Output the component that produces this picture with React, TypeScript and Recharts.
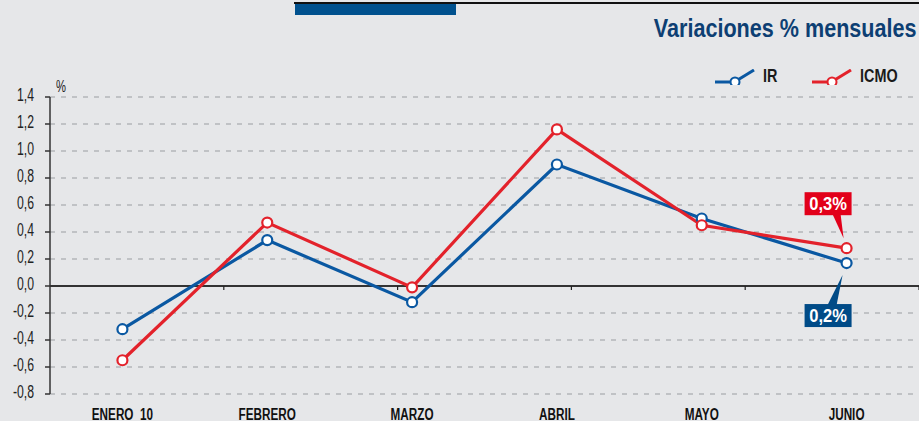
import React from "react";
import {
    LineChart,
    Line,
    XAxis,
    YAxis,
    CartesianGrid,
    ReferenceLine,
    LabelList,
} from "recharts";

const months = ["ENERO  10", "FEBRERO", "MARZO", "ABRIL", "MAYO", "JUNIO"];
const irValues = [-0.32, 0.34, -0.12, 0.9, 0.5, 0.17];
const icmoValues = [-0.55, 0.47, -0.01, 1.16, 0.45, 0.28];
const yTicks = [-0.8, -0.6, -0.4, -0.2, 0, 0.2, 0.4, 0.6, 0.8, 1.0, 1.2, 1.4];
const boundaryTicks = [1, 2, 3, 4, 5];

// no condensed fonts installed, so Liberation Sans gets squeezed with scaleX
const SANS = "'Liberation Sans', Arial, sans-serif";
const BLUE = "#0a58a2";
const RED = "#e3222b";
const BG = "#e6e7e9";

const data = months.map((m, i) => ({
    month: m,
    IR: irValues[i],
    ICMO: icmoValues[i],
}));

const fmt = (v: number) => v.toFixed(1).replace(".", ",");

function YTick(props: any) {
    const { x, y, payload } = props;
    return (
        <g transform={`translate(${x},${y})`}>
            <text
                transform="scale(0.68,1)"
                textAnchor="end"
                dy={4}
                fontFamily={SANS}
                fontSize={18}
                fill="#222"
            >
                {fmt(payload.value)}
            </text>
        </g>
    );
}

function XTick(props: any) {
    const { x, payload } = props;
    return (
        <g transform={`translate(${x},420)`}>
            <text
                transform="scale(0.69,1)"
                textAnchor="middle"
                fontFamily={SANS}
                fontWeight={700}
                fontSize={17}
                fill="#111"
                style={{ whiteSpace: "pre" }}
            >
                {payload.value}
            </text>
        </g>
    );
}

function LegendIcon({ color }: { color: string }) {
    return (
        <svg width={42} height={16} style={{ display: "block" }}>
            <line x1={1} y1={13} x2={18} y2={13} stroke={color} strokeWidth={3} />
            <line x1={22} y1={12} x2={40} y2={1} stroke={color} strokeWidth={3} />
            <circle cx={21} cy={13} r={4.5} fill="#fff" stroke={color} strokeWidth={2} />
        </svg>
    );
}

const legendItems = [
    { name: "IR", color: BLUE, left: 714 },
    { name: "ICMO", color: RED, left: 811 },
];

// callout box on the last point of a series
function makeCallout(color: string, below: boolean) {
    return (props: any) => {
        const { x, y, index, value } = props;
        if (index !== months.length - 1) return null;
        const bx = x - 42;
        const bw = 47;
        const bh = 23;
        const by = below ? y + 41 : y - 56;
        const pointer = below
            ? `${x - 19},${by + 1} ${x - 10},${by + 1} ${x - 4},${y + 12}`
            : `${x - 14},${by + bh - 1} ${x - 6},${by + bh - 1} ${x - 3},${y - 10}`;
        return (
            <g>
                <polygon points={pointer} fill={color} />
                <rect x={bx} y={by} width={bw} height={bh} fill={color} />
                <g transform={`translate(${bx + bw / 2},${by + bh / 2 + 6.5})`}>
                    <text
                        transform="scale(0.92,1)"
                        textAnchor="middle"
                        fill="#fff"
                        fontFamily={SANS}
                        fontWeight={700}
                        fontSize={18}
                    >
                        {fmt(Number(value)) + "%"}
                    </text>
                </g>
            </g>
        );
    };
}

export default function App() {
    return (
        <div
            style={{
                position: "fixed",
                left: 0,
                top: 0,
                width: 919,
                height: 421,
                background: BG,
                overflow: "hidden",
            }}
        >
            <div
                style={{
                    position: "absolute",
                    left: 294,
                    top: 2,
                    width: 625,
                    height: 2,
                    background: "#111",
                }}
            />
            <div
                style={{
                    position: "absolute",
                    left: 295,
                    top: 4,
                    width: 161,
                    height: 11,
                    background: "#00518e",
                }}
            />
            <div
                style={{
                    position: "absolute",
                    right: 2,
                    top: 13,
                    fontFamily: SANS,
                    fontWeight: 700,
                    fontSize: 26,
                    lineHeight: "30px",
                    color: "#0d3f73",
                    whiteSpace: "nowrap",
                    transform: "scaleX(0.83)",
                    transformOrigin: "right center",
                }}
            >
                Variaciones % mensuales
            </div>
            <div
                style={{
                    position: "absolute",
                    left: 56,
                    top: 78,
                    fontFamily: SANS,
                    fontSize: 16,
                    color: "#222",
                    transform: "scaleX(0.7)",
                    transformOrigin: "left center",
                }}
            >
                %
            </div>
            {legendItems.map((it) => (
                <div
                    key={it.name}
                    style={{
                        position: "absolute",
                        left: it.left,
                        top: 66,
                        display: "flex",
                        alignItems: "center",
                    }}
                >
                    <LegendIcon color={it.color} />
                    <span
                        style={{
                            fontFamily: SANS,
                            fontWeight: 700,
                            fontSize: 18,
                            color: "#1a1a1a",
                            marginLeft: 7,
                            display: "inline-block",
                            transform: "scaleX(0.8)",
                            transformOrigin: "left center",
                        }}
                    >
                        {it.name}
                    </span>
                </div>
            ))}
            <LineChart
                width={919}
                height={421}
                data={data}
                margin={{ top: 97, right: 0, bottom: 0, left: 0 }}
            >
                <CartesianGrid
                    vertical={false}
                    stroke="#b4b6b9"
                    strokeDasharray="5 6"
                    strokeWidth={1.3}
                />
                <XAxis
                    dataKey="month"
                    scale="band"
                    axisLine={false}
                    tickLine={false}
                    height={27}
                    interval={0}
                    tick={<XTick />}
                />
                <XAxis xAxisId="n" type="number" domain={[0, 6]} hide />
                <YAxis
                    width={50}
                    domain={[-0.8, 1.4]}
                    ticks={yTicks}
                    interval={0}
                    tickSize={5}
                    tickMargin={11}
                    axisLine={{ stroke: "#333", strokeWidth: 1.5 }}
                    tickLine={{ stroke: "#333", strokeWidth: 1.5 }}
                    tick={<YTick />}
                />
                <ReferenceLine y={0} stroke="#333" strokeWidth={1.8} />
                {boundaryTicks.map((b) => (
                    <ReferenceLine
                        key={b}
                        xAxisId="n"
                        segment={[
                            { x: b, y: 0 },
                            { x: b, y: -0.03 },
                        ]}
                        stroke="#222"
                        strokeWidth={1.2}
                    />
                ))}
                <Line
                    dataKey="IR"
                    type="linear"
                    stroke={BLUE}
                    strokeWidth={3.2}
                    dot={{ r: 5, fill: "#fff", stroke: BLUE, strokeWidth: 2.2 }}
                    isAnimationActive={false}
                >
                    <LabelList dataKey="IR" content={makeCallout("#004b87", true)} />
                </Line>
                <Line
                    dataKey="ICMO"
                    type="linear"
                    stroke={RED}
                    strokeWidth={3.2}
                    dot={{ r: 5, fill: "#fff", stroke: RED, strokeWidth: 2.2 }}
                    isAnimationActive={false}
                >
                    <LabelList dataKey="ICMO" content={makeCallout("#e2001a", false)} />
                </Line>
            </LineChart>
        </div>
    );
}
